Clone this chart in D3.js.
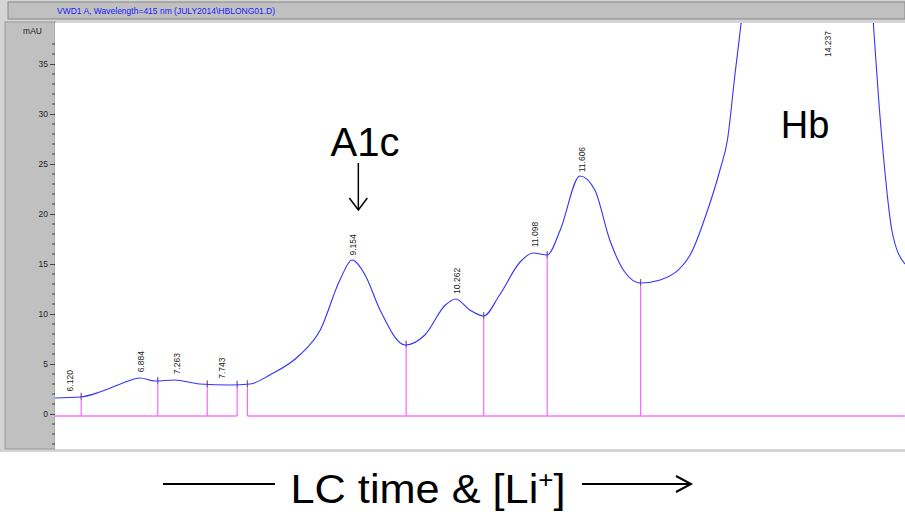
<!DOCTYPE html>
<html>
<head>
<meta charset="UTF-8" />
<script src="https://cdn.jsdelivr.net/npm/d3@7/dist/d3.min.js"></script>
<style>body{margin:0;background:#fff}</style>
</head>
<body>
<svg width="905" height="514" id="svg"></svg>
<script>
const title = "VWD1 A, Wavelength=415 nm (JULY2014\\HBLONG01.D)"
// retention time (min) and signal (mAU)
const times = [5.96,6.23,6.44,6.66,6.87,7.03,7.24,7.51,7.83,8.05,8.26,8.58,8.80,9.01,9.14,9.28,9.44,9.71,9.92,10.14,10.25,10.40,10.55,10.72,10.94,11.08,11.23,11.37,11.58,11.74,11.90,12.06,12.23,12.44,12.76,12.93,13.08,13.16,13.24,13.31,13.50,14.24,14.72,14.78,14.85,14.89,14.92,15.06]
const signal = [1.6,1.7,2.2,3.0,3.6,3.3,3.4,3.0,2.9,3.0,3.9,5.9,8.4,13.4,15.4,13.9,10.4,6.9,7.9,10.9,11.5,10.4,9.8,11.9,15.2,16.1,15.9,18.4,23.8,22.4,17.4,14.2,13.1,13.4,15.9,19.9,24.4,27.4,33.9,39.4,60,80,39.4,31.4,23.9,20.4,18.4,15.0]
const peakTimes = [6.120,6.884,7.263,7.743,9.154,10.262,11.098,11.606,14.237]
const peakLabels = ["6.120","6.884","7.263","7.743","9.154","10.262","11.098","11.606","14.237"]
const dropTimes = [6.24,7.06,7.59,7.91,8.02,9.72,10.55,11.23,12.23]
const yTicks = [0,5,10,15,20,25,30,35]

const svg = d3.select("#svg")
const plot = { left: 55, right: 905, top: 23, bottom: 449 }

const x = d3.scaleLinear().domain([6.12, 14.237]).range([70, 828])
const y = d3.scaleLinear().domain([0, 35]).range([414, 64])
const f = d3.scaleLinear().domain(times).range(signal)

// frame
svg.append("rect").attr("x", 0).attr("y", 0).attr("width", 905).attr("height", 452).attr("fill", "#d4d4d4")
svg.append("rect").attr("x", 8).attr("y", 2).attr("width", 897).attr("height", 17).attr("fill", "#c0c0c0").attr("stroke", "#888")
svg.append("text").attr("x", 57).attr("y", 14).attr("font-family", "Liberation Sans, Arial").attr("font-size", 8.5)
  .attr("fill", "#1a1aff").text(title)
svg.append("rect").attr("x", 5).attr("y", plot.top - 1).attr("width", plot.left - 5).attr("height", plot.bottom - plot.top + 1)
  .attr("fill", "#c0c0c0").attr("stroke", "#999")
svg.append("rect").attr("x", plot.left).attr("y", plot.top).attr("width", plot.right - plot.left).attr("height", plot.bottom - plot.top).attr("fill", "#fff")
svg.append("rect").attr("x", 0).attr("y", 452).attr("width", 905).attr("height", 62).attr("fill", "#fff")

// y axis
const yAxis = svg.append("g").attr("transform", `translate(${plot.left},0)`)
  .call(d3.axisLeft(y).tickValues(yTicks).tickSize(5).tickPadding(2))
yAxis.select(".domain").remove()
yAxis.selectAll("text").attr("font-family", "Liberation Sans, Arial").attr("font-size", 8.5).attr("fill", "#222")
yAxis.selectAll("line").attr("stroke", "#444")
svg.append("g").selectAll("line").data(d3.range(-3, 38).filter(v => v % 5 !== 0)).join("line")
  .attr("x1", plot.left - 3).attr("x2", plot.left).attr("y1", d => y(d)).attr("y2", d => y(d)).attr("stroke", "#444")
svg.append("text").attr("x", 42).attr("y", 34).attr("text-anchor", "end").attr("font-family", "Liberation Sans, Arial")
  .attr("font-size", 8.5).attr("fill", "#222").text("mAU")

svg.append("clipPath").attr("id", "clip").append("rect")
  .attr("x", plot.left).attr("y", plot.top).attr("width", plot.right - plot.left).attr("height", plot.bottom - plot.top)
const g = svg.append("g").attr("clip-path", "url(#clip)")

// baseline with drop lines
const base = -0.2
const segs = [[5.96, 7.91], [8.02, 15.06]]
segs.forEach(s => g.append("line").attr("x1", x(s[0])).attr("x2", x(s[1])).attr("y1", y(base)).attr("y2", y(base))
  .attr("stroke", "#ff33ff").attr("stroke-width", 1.2))
g.selectAll(".drop").data(dropTimes).join("line").attr("class", "drop")
  .attr("x1", d => x(d)).attr("x2", d => x(d)).attr("y1", y(base)).attr("y2", d => y(f(d)) - 3)
  .attr("stroke", "#ff66ff").attr("stroke-width", 1.2)
g.selectAll(".tk").data(dropTimes).join("line").attr("class", "tk")
  .attr("x1", d => x(d)).attr("x2", d => x(d)).attr("y1", d => y(f(d)) - 4).attr("y2", d => y(f(d)) + 3)
  .attr("stroke", "#666")

// trace
g.append("path").datum(times.map((t, i) => [t, signal[i]]))
  .attr("d", d3.line().x(d => x(d[0])).y(d => y(d[1])).curve(d3.curveMonotoneX))
  .attr("fill", "none").attr("stroke", "#3333ff").attr("stroke-width", 1.1)

// peak labels
peakTimes.forEach((t, i) => {
  const yy = t > 14 ? 57 : y(f(t)) - 6
  g.append("text").attr("transform", `translate(${x(t) + 3},${yy}) rotate(-90)`)
    .attr("font-family", "Liberation Sans, Arial").attr("font-size", 8.5).attr("fill", "#222").text(peakLabels[i])
})

// annotations
const big = "Liberation Sans, Arial"
svg.append("text").attr("x", 365).attr("y", 156).attr("text-anchor", "middle").attr("font-family", big).attr("font-size", 40).text("A1c")
svg.append("line").attr("x1", x(9.154) + 5).attr("x2", x(9.154) + 5).attr("y1", 163).attr("y2", 209).attr("stroke", "#000").attr("stroke-width", 1.5)
svg.append("path").attr("d", `M${x(9.154) - 4},198 L${x(9.154) + 5},210 L${x(9.154) + 14},198`).attr("fill", "none").attr("stroke", "#000").attr("stroke-width", 1.5)
svg.append("text").attr("x", 805).attr("y", 138).attr("text-anchor", "middle").attr("font-family", big).attr("font-size", 38).text("Hb")

const label = svg.append("text").attr("x", 428).attr("y", 503).attr("text-anchor", "middle").attr("font-family", big).attr("font-size", 40)
  .attr("textLength", 275).attr("lengthAdjust", "spacingAndGlyphs")
label.append("tspan").text("LC time & [Li")
label.append("tspan").attr("font-size", 24).attr("dy", -15).text("+")
label.append("tspan").attr("dy", 15).text("]")
svg.append("line").attr("x1", 163).attr("x2", 275).attr("y1", 484).attr("y2", 484).attr("stroke", "#000").attr("stroke-width", 2)
svg.append("line").attr("x1", 582).attr("x2", 690).attr("y1", 484).attr("y2", 484).attr("stroke", "#000").attr("stroke-width", 2)
svg.append("path").attr("d", "M676,476 L691,484 L676,492").attr("fill", "none").attr("stroke", "#000").attr("stroke-width", 2)
</script>
</body>
</html>
